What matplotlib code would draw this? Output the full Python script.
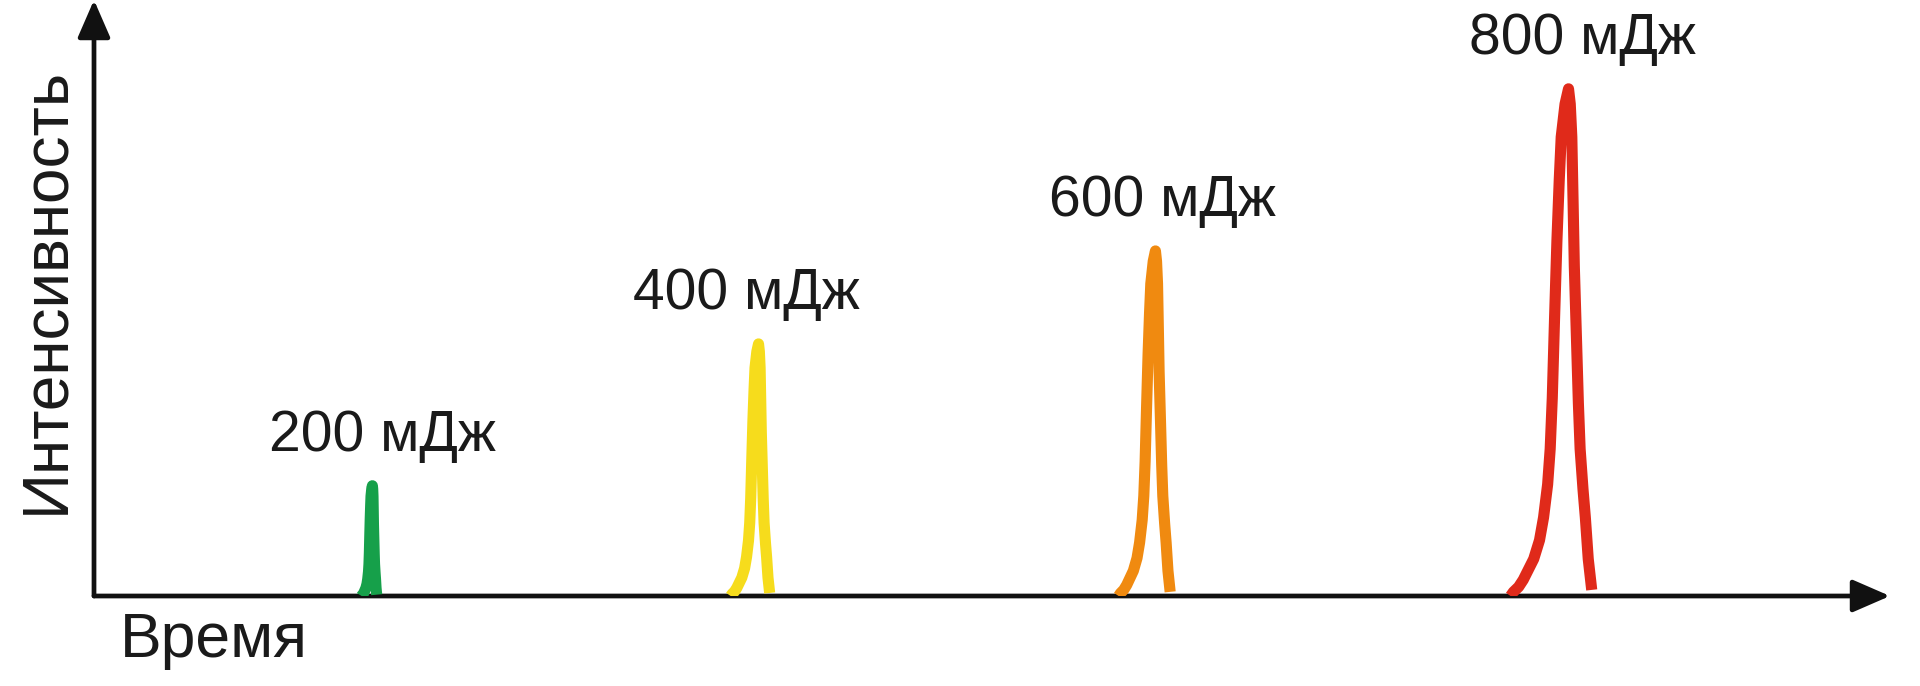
import numpy as np
import matplotlib
matplotlib.use("Agg")
import matplotlib.pyplot as plt

plt.rcParams['font.family'] = ['Liberation Sans', 'DejaVu Sans']

# pulse data (arbitrary units, axes 0..100)
labels = ['200 мДж', '400 мДж', '600 мДж', '800 мДж']
centers = [15.5, 37.0, 59.1, 82.1]
heights = [18.5, 42.3, 57.9, 85.1]
widths = [0.6, 1.55, 2.05, 3.23]
colors = ['#16a04a', '#f6dc1c', '#f08a10', '#e02a1a']

# hand drawn pulse outline (u = offset / width, v = fraction of height)
shape_u = [-1.0, -0.95, -0.86, -0.78, -0.6, -0.5, -0.43, -0.36, -0.316, -0.28, -0.24, -0.2,
           -0.16, -0.126, -0.06, 0.0, 0.03, 0.057, 0.08, 0.1, 0.14, 0.17, 0.2, 0.25, 0.29, 0.34, 0.40]
shape_v = [0.0, 0.008, 0.018, 0.032, 0.073, 0.11, 0.155, 0.22, 0.29, 0.39, 0.55, 0.70,
           0.82, 0.905, 0.97, 1.0, 0.97, 0.905, 0.77, 0.65, 0.496, 0.38, 0.29, 0.21, 0.155, 0.073, 0.012]

W, H = 1920, 686
fig = plt.figure(figsize=(W / 100, H / 100), dpi=100)
ax = fig.add_axes([94 / W, 90 / H, (1890 - 94) / W, 596 / H])
ax.set_xlim(0, 100)
ax.set_ylim(0, 100)
ax.axis('off')

# axes with arrows
arrow = dict(arrowstyle='-|>,head_length=2.3,head_width=1.0', mutation_scale=10,
             lw=3.4, color='#111111', shrinkA=0, shrinkB=0)
ax.annotate('', xy=(1, 0), xytext=(0, 0), xycoords='axes fraction', arrowprops=arrow)
ax.annotate('', xy=(0, 1), xytext=(0, 0), xycoords='axes fraction', arrowprops=arrow)

su = np.array(shape_u)
sv = np.array(shape_v)
label_dx = [7, -9, 5, 10]
for lab, c, h, w, col, dx in zip(labels, centers, heights, widths, colors, label_dx):
    ax.plot(c + su * w, sv * h, color=col, lw=8, solid_joinstyle='round',
            solid_capstyle='butt', zorder=3)
    ax.annotate(lab, xy=(c, h), xytext=(dx, 36), textcoords='offset points',
                ha='center', va='center', fontsize=41, color='#1a1a1a')

fig.text(46 / W, 1 - 290 / H, 'Интенсивность', rotation=90, ha='center', va='center',
         fontsize=46, color='#1a1a1a')
fig.text(214 / W, 1 - 640 / H, 'Время', ha='center', va='center',
         fontsize=45, color='#1a1a1a')

fig.savefig('out.png', dpi=100, facecolor='white')
